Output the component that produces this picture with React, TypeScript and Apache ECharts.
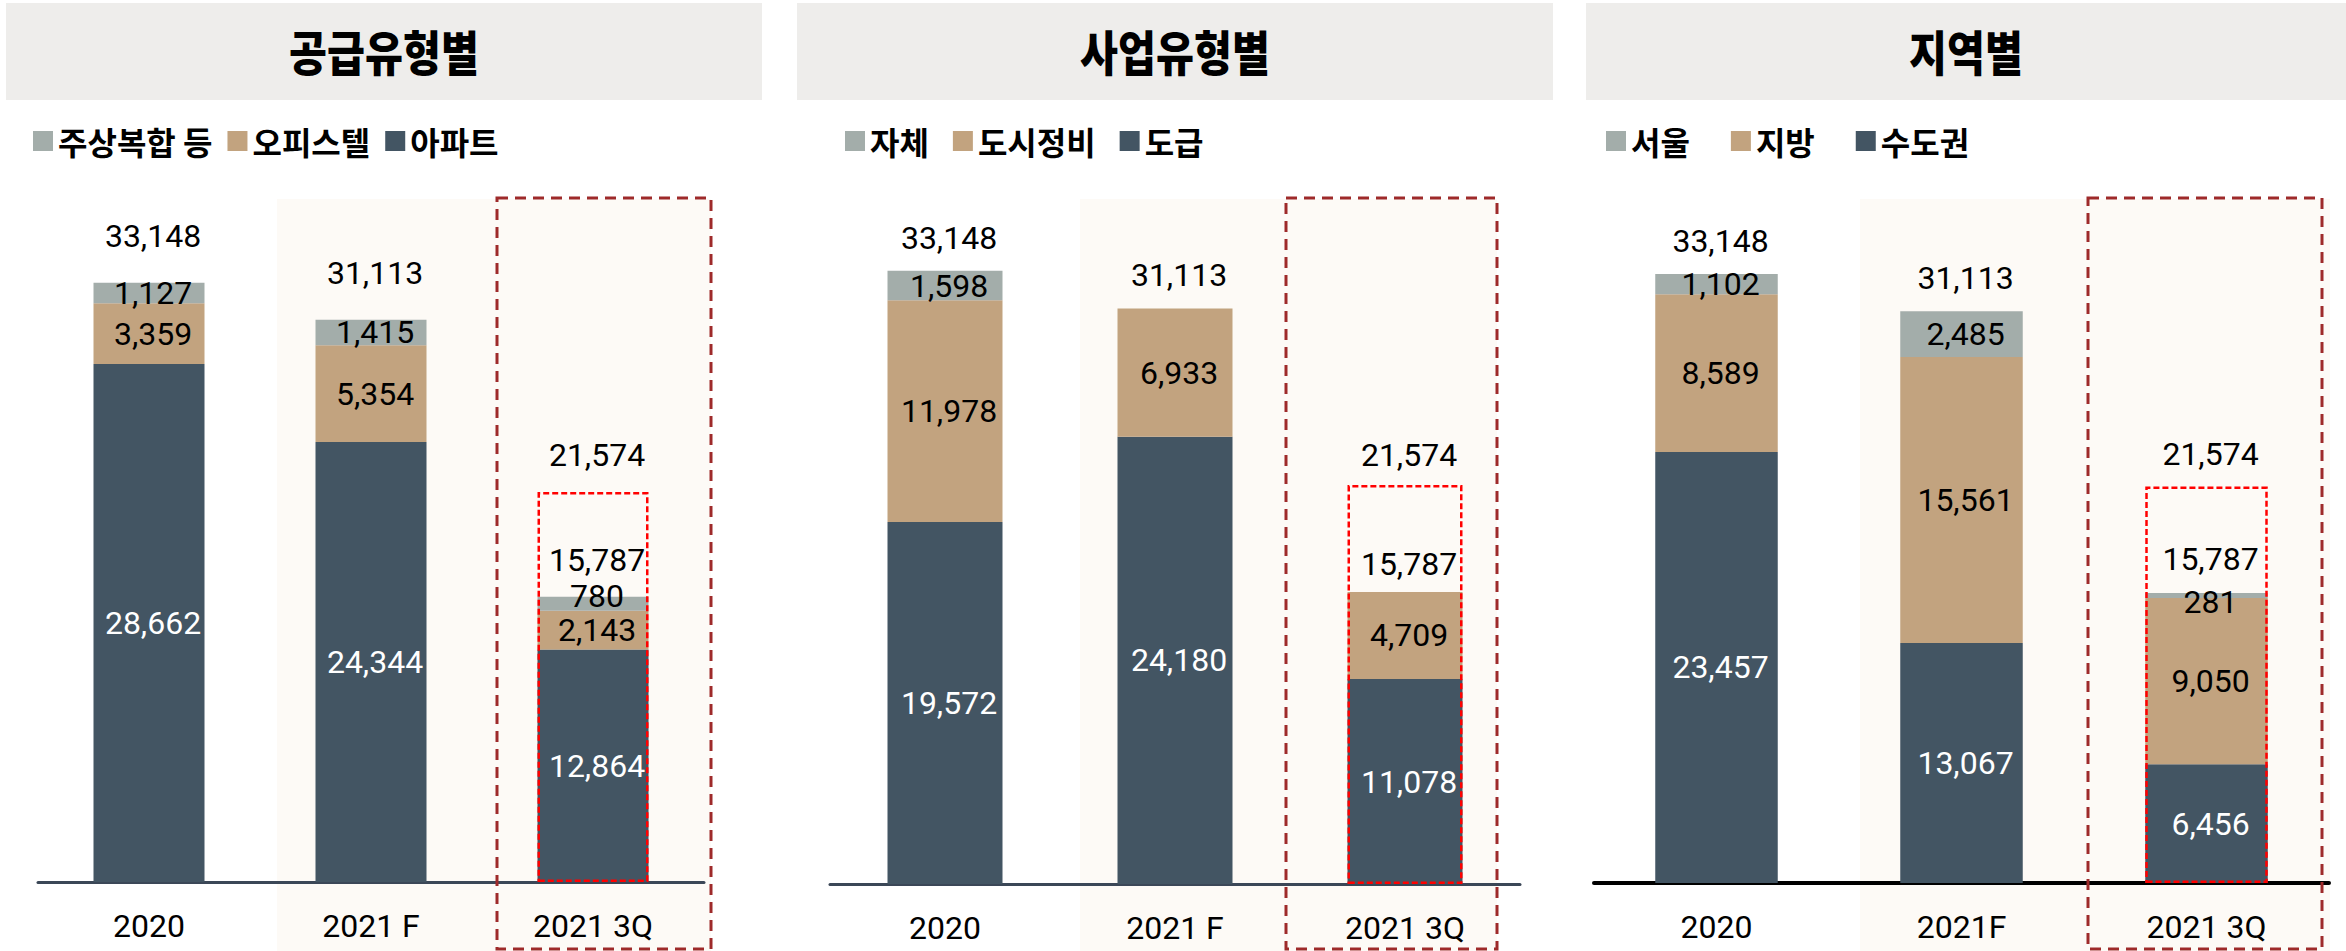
import React, { useEffect, useRef } from "react";
import * as echarts from "echarts";

// ---- data ----
const categoriesA = ["2020", "2021 F", "2021 3Q"];
const categoriesC = ["2020", "2021F", "2021 3Q"];

const panelTitles = ["공급유형별", "사업유형별", "지역별"];

// 공급유형별
const supplyNames = ["아파트", "오피스텔", "주상복합 등"];
const supplyApt = [28662, 24344, 12864];
const supplyOffice = [3359, 5354, 2143];
const supplyMixed = [1127, 1415, 780];

// 사업유형별
const bizNames = ["도급", "도시정비", "자체"];
const bizContract = [19572, 24180, 11078];
const bizRedevelop = [11978, 6933, 4709];
const bizOwn = [1598, null, null];

// 지역별
const regionNames = ["수도권", "지방", "서울"];
const regionCapital = [23457, 13067, 6456];
const regionLocal = [8589, 15561, 9050];
const regionSeoul = [1102, 2485, 281];

// totals (third = 2021 figure shown above the dashed box)
const totals = [33148, 31113, 21574];
const quarterSubtotal = [null, null, 15787];

// ---- style ----
const DARK = "#435563";
const TAN = "#C2A37F";
const GRAY = "#A3ADAA";
const NUM_FONT = "Roboto";
const KR_FONT = "Noto Sans CJK KR";

const grids = [
  { left: 38, top: 159, width: 666, height: 723 },
  { left: 830, top: 144, width: 690, height: 740 },
  { left: 1594, top: 148, width: 735, height: 735 },
];
const axisColors = ["#3B4757", "#3B4757", "#000000"];
const axisWidths = [3, 3, 4];
const totalDist = [33, 19, 19];
const boxDist = [23, 16, 19];
const subDist = [23, 14, 20];

const titleBoxes = [
  [6, 762],
  [797, 1553],
  [1586, 2346],
];
const shadeBoxes = [
  [277, 711],
  [1080, 1497],
  [1860, 2330],
];
const dashBoxes = [
  [497, 711],
  [1286, 1497],
  [2088, 2322],
];

const fmt = (v: any) => Number(v).toLocaleString("en-US");

export default function App() {
  const ref = useRef<HTMLDivElement>(null);
  useEffect(() => {
    if (!ref.current) return;
    const chart = echarts.init(ref.current, undefined, { renderer: "svg" });

    const panels = [
      { names: supplyNames, vals: [supplyApt, supplyOffice, supplyMixed], cats: categoriesA },
      { names: bizNames, vals: [bizContract, bizRedevelop, bizOwn], cats: categoriesA },
      { names: regionNames, vals: [regionCapital, regionLocal, regionSeoul], cats: categoriesC },
    ];
    const colors = [DARK, TAN, GRAY];
    const labelColors = ["#ffffff", "#000000", "#000000"];
    const specialOffsets: Record<string, number[]> = {
      "0-2-2": [4, -8],
      "2-2-2": [4, 7],
    };
    const labelBase = {
      fontFamily: NUM_FONT,
      fontSize: 32,
      lineHeight: 28,
      formatter: (q: any) => fmt(q.value),
    };

    const series: any[] = [];
    panels.forEach((p, pi) => {
      p.names.forEach((name, si) => {
        series.push({
          type: "bar",
          name,
          stack: "s" + pi,
          xAxisIndex: pi,
          yAxisIndex: pi,
          barWidth: "50%",
          barGap: "-100%",
          z: 2,
          itemStyle: { color: colors[si] },
          label: {
            ...labelBase,
            show: true,
            position: "inside",
            offset: [4, 0],
            color: labelColors[si],
          },
          data: p.vals[si].map((v, di) => {
            const key = `${pi}-${si}-${di}`;
            if (v == null) return null;
            if (specialOffsets[key]) return { value: v, label: { offset: specialOffsets[key] } };
            return v;
          }),
        });
      });
      series.push({
        type: "bar",
        name: "total" + pi,
        xAxisIndex: pi,
        yAxisIndex: pi,
        barWidth: "50%",
        barGap: "-100%",
        z: 4,
        itemStyle: { color: "rgba(0,0,0,0)" },
        label: {
          ...labelBase,
          show: true,
          position: "top",
          offset: [4, 0],
          color: "#000",
        },
        data: totals.map((v, di) =>
          di < 2
            ? { value: v, label: { distance: totalDist[pi] } }
            : {
                value: v,
                label: { distance: boxDist[pi] },
                itemStyle: {
                  color: "rgba(0,0,0,0)",
                  borderColor: "#FF0000",
                  borderWidth: 2.5,
                  borderType: [6, 3],
                },
              }
        ),
      });
      series.push({
        type: "bar",
        name: "sub" + pi,
        xAxisIndex: pi,
        yAxisIndex: pi,
        barWidth: "50%",
        barGap: "-100%",
        z: 3,
        itemStyle: { color: "rgba(0,0,0,0)" },
        label: {
          ...labelBase,
          show: true,
          position: "top",
          distance: subDist[pi],
          offset: [4, 0],
          color: "#000",
        },
        data: quarterSubtotal,
      });
    });

    const legendCfg = [
      { data: ["주상복합 등", "오피스텔", "아파트"], left: 33, itemGap: 15 },
      { data: ["자체", "도시정비", "도급"], left: 845, itemGap: 24 },
      { data: ["서울", "지방", "수도권"], left: 1606, itemGap: 41 },
    ];

    const graphics: any[] = [];
    panelTitles.forEach((t, i) => {
      const [x0, x1] = titleBoxes[i];
      graphics.push({
        type: "rect",
        z: -10,
        shape: { x: x0, y: 3, width: x1 - x0, height: 97 },
        style: { fill: "#EEEDEB" },
        silent: true,
      });
      graphics.push({
        type: "text",
        z: 5,
        x: (x0 + x1) / 2,
        y: 50,
        scaleX: 0.86,
        style: {
          text: t,
          fill: "#000",
          font: `900 48px "${KR_FONT}"`,
          textAlign: "center",
          textVerticalAlign: "middle",
        },
        silent: true,
      });
      const [s0, s1] = shadeBoxes[i];
      graphics.push({
        type: "rect",
        z: -10,
        shape: { x: s0, y: 199, width: s1 - s0, height: 760 },
        style: { fill: "#FDFAF6" },
        silent: true,
      });
      const [d0, d1] = dashBoxes[i];
      graphics.push({
        type: "rect",
        z: 1,
        shape: { x: d0, y: 198, width: d1 - d0, height: 751 },
        style: { fill: "none", stroke: "#9E2A2A", lineWidth: 3, lineDash: [11, 7] },
        silent: true,
      });
    });

    chart.setOption({
      animation: false,
      backgroundColor: "#ffffff",
      graphic: { elements: graphics },
      legend: legendCfg.map((l) => ({
        ...l,
        top: 125,
        padding: 0,
        icon: "rect",
        itemWidth: 20,
        itemHeight: 20,
        selectedMode: false,
        textStyle: { fontFamily: KR_FONT, fontSize: 32, fontWeight: "bold", color: "#000" },
      })),
      grid: grids,
      xAxis: panels.map((p, i) => ({
        type: "category",
        gridIndex: i,
        data: p.cats,
        axisTick: { show: false },
        axisLine: { lineStyle: { color: axisColors[i], width: axisWidths[i] } },
        axisLabel: { fontFamily: NUM_FONT, fontSize: 32, color: "#000", margin: 28 },
      })),
      yAxis: panels.map((_, i) => ({
        type: "value",
        gridIndex: i,
        min: 0,
        max: 40000,
        show: false,
        splitLine: { show: false },
      })),
      series,
    });
    return () => chart.dispose();
  }, []);
  return (
    <div
      ref={ref}
      style={{ position: "fixed", left: 0, top: 0, width: 2346, height: 951 }}
    />
  );
}
